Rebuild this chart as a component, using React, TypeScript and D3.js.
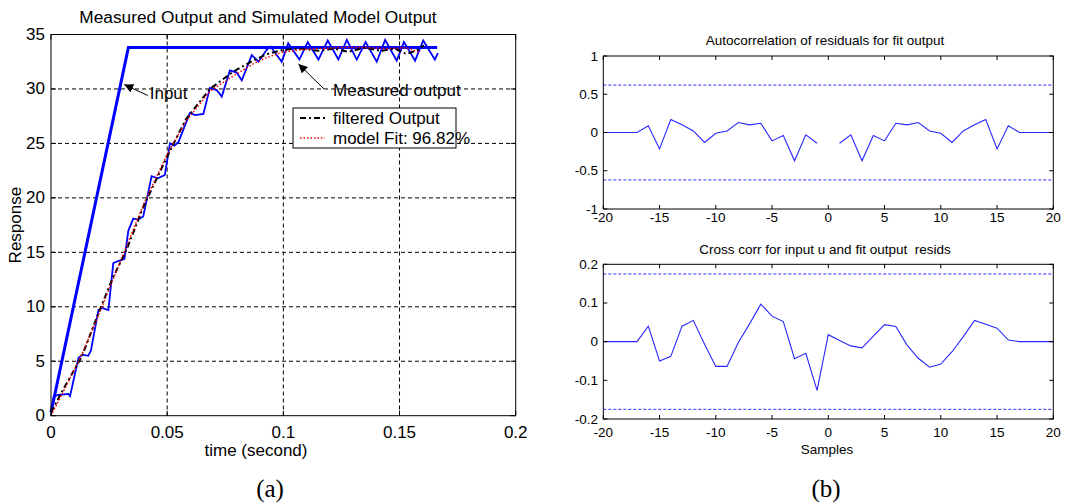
import * as d3 from 'd3';

// left panel (a): measured output and simulated model output
const timeTicks = [0, 0.05, 0.1, 0.15, 0.2];
const timeTickLabels = ['0', '0.05', '0.1', '0.15', '0.2'];
const responseTicks = [0, 5, 10, 15, 20, 25, 30, 35];

const inputT = [0, 0.0333, 0.1662];
const inputY = [0.3, 33.8, 33.8];

const measuredT = [
  0, 0.0012, 0.003, 0.0075, 0.0082, 0.0118, 0.0135, 0.016, 0.0172, 0.0204, 0.022, 0.0247,
  0.0268, 0.029, 0.0316, 0.0333, 0.0354, 0.0375, 0.0397, 0.0433, 0.046, 0.049, 0.0512, 0.053,
  0.0548, 0.0598, 0.062, 0.0656, 0.0684, 0.0713, 0.0735, 0.077, 0.0799, 0.0821, 0.0864, 0.0893,
  0.0928, 0.0945, 0.0993, 0.1021, 0.1069, 0.1105, 0.1151, 0.1191, 0.1237, 0.1273, 0.1316,
  0.1354, 0.1402, 0.1438, 0.1488, 0.1519, 0.1567, 0.1602, 0.1652, 0.1665,
];
const measuredY = [
  0, 1.8, 1.9, 2.0, 1.8, 5.3, 5.6, 5.5, 6.0, 9.7, 9.9, 9.7,
  14.0, 14.2, 14.4, 17.0, 18.1, 18.0, 18.3, 22.0, 21.8, 22.1, 25.0, 24.8,
  25.1, 27.8, 27.6, 27.7, 30.1, 29.9, 29.3, 31.7, 31.5, 30.8, 33.1, 32.5,
  33.6, 33.9, 32.5, 34.2, 32.7, 34.3, 32.7, 34.45, 32.7, 34.5, 32.7,
  34.3, 32.5, 34.5, 32.6, 34.3, 32.6, 34.45, 32.7, 33.3,
];

const filteredT = [
  0, 0.006, 0.0132, 0.0204, 0.0265, 0.0326, 0.04, 0.05, 0.058, 0.0684, 0.0785, 0.087,
  0.093, 0.1, 0.108, 0.115, 0.122, 0.128, 0.135, 0.142, 0.148, 0.153, 0.158, 0.1605,
];
const filteredY = [
  0.3, 2.7, 5.4, 9.4, 12.6, 15.3, 19.3, 23.8, 27.2, 30.0, 31.6, 32.6,
  33.2, 33.6, 33.7, 33.5, 33.7, 33.4, 33.8, 33.5, 33.7, 33.2, 33.6, 34.0,
];

const modelT = [
  0, 0.006, 0.0132, 0.0204, 0.0265, 0.0326, 0.04, 0.05, 0.058, 0.0684, 0.0785, 0.087,
  0.093, 0.1, 0.108, 0.115, 0.125, 0.135, 0.145, 0.153, 0.158, 0.159,
];
const modelY = [
  0, 2.5, 5.6, 9.2, 12.4, 15.6, 19.5, 24.0, 27.0, 29.8, 31.2, 32.3,
  32.9, 33.4, 33.6, 33.7, 33.8, 33.8, 33.7, 33.8, 33.4, 33.5,
];

// right panel (b): residual correlations
const lags = d3.range(-20, 21);
const lagTicks = [-20, -15, -10, -5, 0, 5, 10, 15, 20];
const autoTicks = [-1, -0.5, 0, 0.5, 1];
const autoTickLabels = ['-1', '-0.5', '0', '0.5', '1'];
const crossTicks = [-0.2, -0.1, 0, 0.1, 0.2];
const crossTickLabels = ['-0.2', '-0.1', '0', '0.1', '0.2'];

const autoCorr: (number | null)[] = [
  0, 0, 0, 0, 0.087, -0.215, 0.17, 0.1, 0.02, -0.13, -0.01, 0.02, 0.13, 0.1, 0.12, -0.11,
  -0.04, -0.37, -0.03, -0.14, null, -0.14, -0.03, -0.37, -0.04, -0.11, 0.12, 0.1, 0.13, 0.02,
  -0.01, -0.13, 0.02, 0.1, 0.17, -0.215, 0.087, 0, 0, 0, 0,
];
const autoBound = 0.62;

const crossCorr = [
  0, 0, 0, 0, 0.04, -0.05, -0.038, 0.04, 0.055, -0.007, -0.064, -0.064, -0.002, 0.046, 0.097,
  0.066, 0.052, -0.044, -0.03, -0.126, 0.018, 0.003, -0.011, -0.016, 0.014, 0.044, 0.039,
  -0.009, -0.043, -0.066, -0.058, -0.026, 0.013, 0.055, 0.045, 0.035, 0.004, 0, 0, 0, 0,
];
const crossBound = 0.175;

const FONT = 'Arial, "Liberation Sans", sans-serif';

const zip = (xs: number[], ys: number[]) => xs.map((x, i) => [x, ys[i]] as [number, number]);

function PanelA() {
  const x = d3.scaleLinear().domain([0, 0.2]).range([51, 515.7]);
  const y = d3.scaleLinear().domain([0, 35]).range([415.7, 34.5]);
  const line = d3.line<[number, number]>().x(d => x(d[0])).y(d => y(d[1]));
  const [x0, x1] = x.range();
  const [y0, y1] = y.range();

  return (
    <g fontFamily={FONT}>
      <text x={258} y={17} fontSize={17.3} textAnchor="middle" dominantBaseline="central">
        Measured Output and Simulated Model Output
      </text>
      {/* grid */}
      {timeTicks.slice(1, -1).map(t => (
        <line key={'gx' + t} x1={x(t)} x2={x(t)} y1={y1} y2={y0} stroke="#000" strokeWidth={1} strokeDasharray="4,3" />
      ))}
      {responseTicks.slice(1, -1).map(v => (
        <line key={'gy' + v} x1={x0} x2={x1} y1={y(v)} y2={y(v)} stroke="#000" strokeWidth={1} strokeDasharray="4,3" />
      ))}
      {/* data */}
      <path d={line(zip(inputT, inputY)) || ''} fill="none" stroke="#0000ff" strokeWidth={3} />
      <path d={line(zip(measuredT, measuredY)) || ''} fill="none" stroke="#0000ff" strokeWidth={1.8} />
      <path d={line(zip(filteredT, filteredY)) || ''} fill="none" stroke="#000" strokeWidth={2} strokeDasharray="6,3,2,3" />
      <path d={line(zip(modelT, modelY)) || ''} fill="none" stroke="#ff0000" strokeWidth={1.5} strokeDasharray="1.5,2" />
      {/* box + ticks */}
      <rect x={x0} y={y1} width={x1 - x0} height={y0 - y1} fill="none" stroke="#000" strokeWidth={1} />
      {timeTicks.map((t, i) => (
        <g key={'tx' + t}>
          <line x1={x(t)} x2={x(t)} y1={y0} y2={y0 - 5} stroke="#000" />
          <line x1={x(t)} x2={x(t)} y1={y1} y2={y1 + 5} stroke="#000" />
          <text x={x(t)} y={432} fontSize={17} textAnchor="middle" dominantBaseline="central">{timeTickLabels[i]}</text>
        </g>
      ))}
      {responseTicks.map(v => (
        <g key={'ty' + v}>
          <line x1={x0} x2={x0 + 5} y1={y(v)} y2={y(v)} stroke="#000" />
          <line x1={x1} x2={x1 - 5} y1={y(v)} y2={y(v)} stroke="#000" />
          <text x={45} y={y(v)} fontSize={17} textAnchor="end" dominantBaseline="central">{v}</text>
        </g>
      ))}
      <text x={256} y={450} fontSize={17} textAnchor="middle" dominantBaseline="central">time (second)</text>
      <text transform={`translate(15,${(y0 + y1) / 2}) rotate(-90)`} fontSize={17} textAnchor="middle" dominantBaseline="central">
        Response
      </text>
      {/* annotations */}
      <line x1={x(0.0417)} y1={y(29.4)} x2={x(0.0315)} y2={y(30.4)} stroke="#000" strokeWidth={1} markerEnd="url(#arr)" />
      <text x={x(0.0425)} y={y(29.6)} fontSize={17} dominantBaseline="central">Input</text>
      <line x1={x(0.1175)} y1={y(30.0)} x2={x(0.1065)} y2={y(32.3)} stroke="#000" strokeWidth={1} markerEnd="url(#arr)" />
      <text x={x(0.1214)} y={y(29.9)} fontSize={17} dominantBaseline="central">Measured output</text>
      {/* legend */}
      <g transform="translate(293,108)">
        <rect width={163} height={40} fill="#fff" stroke="#000" strokeWidth={1} />
        <line x1={7} x2={32} y1={10} y2={10} stroke="#000" strokeWidth={2} strokeDasharray="6,3,2,3" />
        <text x={40} y={10} fontSize={17} dominantBaseline="central">filtered Output</text>
        <line x1={7} x2={32} y1={30} y2={30} stroke="#ff0000" strokeWidth={1.5} strokeDasharray="1.5,2" />
        <text x={40} y={30} fontSize={17} dominantBaseline="central">model Fit: 96.82%</text>
      </g>
    </g>
  );
}

function CorrPanel({ top, bottom, values, ticks, tickLabels, bound, title, titleY, labelGap, xlabel }: {
  top: number; bottom: number; values: (number | null)[]; ticks: number[]; tickLabels: string[];
  bound: number; title: string; titleY: number; labelGap: number; xlabel?: string;
}) {
  const x = d3.scaleLinear().domain([-20, 20]).range([603.3, 1053.3]);
  const y = d3.scaleLinear().domain([ticks[0], ticks[ticks.length - 1]]).range([bottom, top]);
  const line = d3.line<[number, number | null]>()
    .defined(d => d[1] !== null)
    .x(d => x(d[0]))
    .y(d => y(d[1] as number));
  const [x0, x1] = x.range();
  const pts = lags.map((l, i) => [l, values[i]] as [number, number | null]);

  return (
    <g fontFamily={FONT}>
      <text x={825} y={titleY} fontSize={13.5} textAnchor="middle" dominantBaseline="central" style={{ whiteSpace: 'pre' }}>{title}</text>
      <line x1={x0} x2={x1} y1={y(bound)} y2={y(bound)} stroke="#3030ff" strokeWidth={1} strokeDasharray="3,2" />
      <line x1={x0} x2={x1} y1={y(-bound)} y2={y(-bound)} stroke="#3030ff" strokeWidth={1} strokeDasharray="3,2" />
      <path d={line(pts) || ''} fill="none" stroke="#2828ff" strokeWidth={1.1} />
      <rect x={x0} y={top} width={x1 - x0} height={bottom - top} fill="none" stroke="#000" strokeWidth={1} />
      {lagTicks.map(l => (
        <g key={'lx' + l}>
          <line x1={x(l)} x2={x(l)} y1={bottom} y2={bottom - 4} stroke="#000" />
          <line x1={x(l)} x2={x(l)} y1={top} y2={top + 4} stroke="#000" />
          <text x={x(l)} y={bottom + labelGap} fontSize={13.5} textAnchor="middle" dominantBaseline="central">{l}</text>
        </g>
      ))}
      {ticks.map((v, i) => (
        <g key={'ly' + v}>
          <line x1={x0} x2={x0 + 4} y1={y(v)} y2={y(v)} stroke="#000" />
          <line x1={x1} x2={x1 - 4} y1={y(v)} y2={y(v)} stroke="#000" />
          <text x={598} y={y(v)} fontSize={13.5} textAnchor="end" dominantBaseline="central">{tickLabels[i]}</text>
        </g>
      ))}
      {xlabel && (
        <text x={827} y={bottom + 30} fontSize={13.5} textAnchor="middle" dominantBaseline="central">{xlabel}</text>
      )}
    </g>
  );
}

export default function App() {
  return (
    <svg width={1081} height={504} style={{ position: 'absolute', left: 0, top: 0, background: '#fff' }}>
      <defs>
        <marker id="arr" viewBox="0 0 10 10" refX={10} refY={5} markerWidth={9} markerHeight={9} orient="auto" markerUnits="userSpaceOnUse">
          <path d="M0,0 L10,5 L0,10 z" fill="#000" />
        </marker>
      </defs>
      <rect width={1081} height={504} fill="#fff" />
      <PanelA />
      <CorrPanel top={56} bottom={209} values={autoCorr} ticks={autoTicks} tickLabels={autoTickLabels}
        bound={autoBound} title="Autocorrelation of residuals for fit output" titleY={40} labelGap={8} />
      <CorrPanel top={264.3} bottom={419} values={crossCorr} ticks={crossTicks} tickLabels={crossTickLabels}
        bound={crossBound} title="Cross corr for input u and fit output  resids" titleY={249} labelGap={13} xlabel="Samples" />
      <text x={270} y={488} fontSize={25} fontFamily='"Liberation Serif", "Times New Roman", serif' textAnchor="middle" dominantBaseline="central">(a)</text>
      <text x={826} y={488} fontSize={25} fontFamily='"Liberation Serif", "Times New Roman", serif' textAnchor="middle" dominantBaseline="central">(b)</text>
    </svg>
  );
}
